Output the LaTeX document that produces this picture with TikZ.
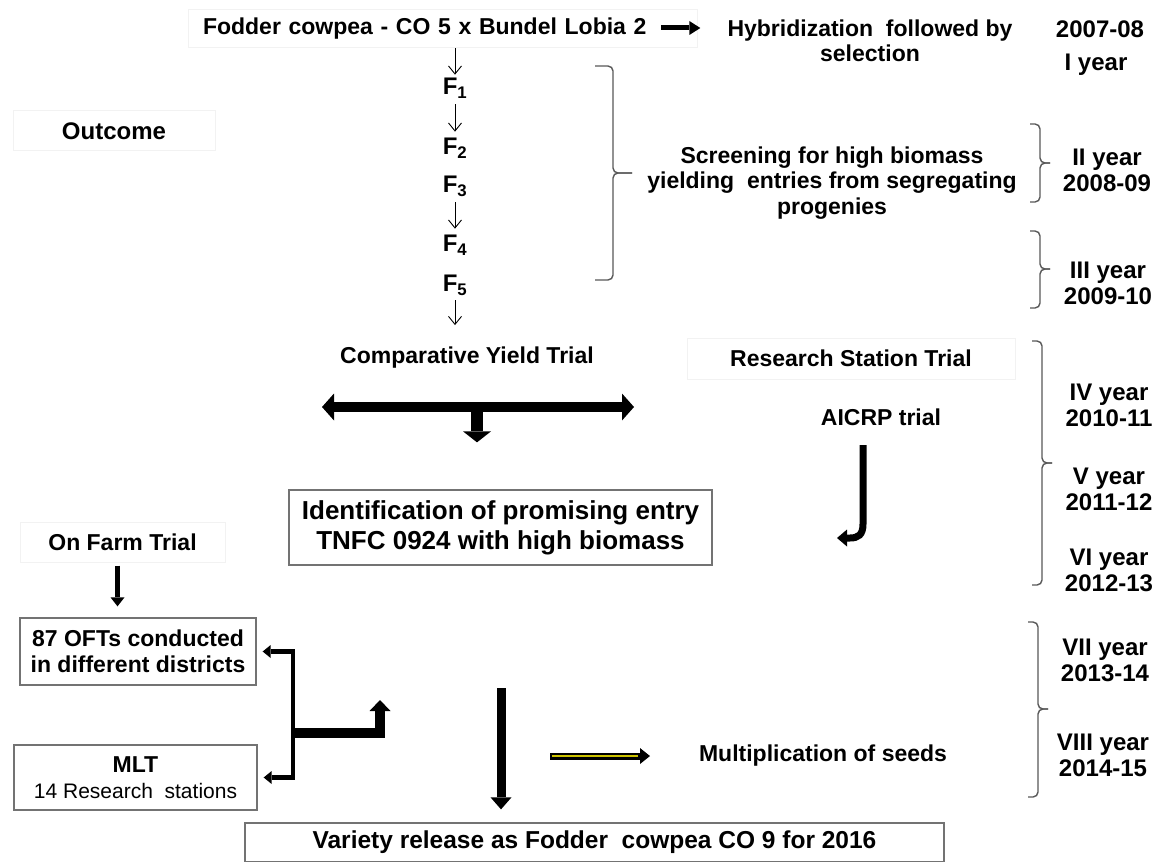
\documentclass[tikz,border=0pt]{standalone}
\usepackage{fontspec}
\setmainfont{Liberation Sans}
\usetikzlibrary{arrows.meta,calc}
\definecolor{faint}{gray}{0.95}
\definecolor{boxgray}{gray}{0.45}
\definecolor{bracegray}{gray}{0.35}
\definecolor{oliveyel}{RGB}{205,195,0}
\newcommand\mybrace[6]{%
  \draw[brc] (#1,#4) -- (#2,#4) -- (#2,#5) -- (#3,#5);
  \draw[brc] (#3,#5) -- (#2,#5) -- (#2,#6) -- (#1,#6);}
\begin{document}
\begin{tikzpicture}[x=1pt,y=-1pt,
  lbl/.style={font=\fontsize{23}{25.5}\selectfont\bfseries, align=center, inner sep=0pt},
  yrlbl/.style={font=\fontsize{24}{26}\selectfont\bfseries, align=center, inner sep=0pt},
  faintbox/.style={draw=faint, line width=1pt},
  solidbox/.style={draw=boxgray, line width=1.3pt},
  farr/.style={line width=0.9pt, -{Straight Barb[length=8pt,width=13pt]}, shorten <=6pt, shorten >=6pt},
  brc/.style={draw=bracegray, line width=1.4pt, rounded corners=5pt}
]
\useasboundingbox[fill=white] (0,0) rectangle (1155,861);

% ---------- nodes ----------
\node[lbl, faintbox, minimum width=509pt, minimum height=38pt, text width=479pt, inner xsep=15pt, align=left] (fod) at (442.5,29) {Fodder cowpea - CO 5 x Bundel Lobia 2};
\node[lbl] (hyb) at (870,41) {Hybridization\ \ followed by\\selection};
\node[yrlbl] (yr1) at (1100,29) {2007-08};
\node[yrlbl] (yr1b) at (1096,65) {I year};

\node[lbl, font=\fontsize{24}{26}\selectfont\bfseries] (F1) at (455,88) {F\textsubscript{1}};
\node[lbl, font=\fontsize{24}{26}\selectfont\bfseries] (F2) at (455,148) {F\textsubscript{2}};
\node[lbl, font=\fontsize{24}{26}\selectfont\bfseries] (F3) at (455,186) {F\textsubscript{3}};
\node[lbl, font=\fontsize{24}{26}\selectfont\bfseries] (F4) at (455,245) {F\textsubscript{4}};
\node[lbl, font=\fontsize{24}{26}\selectfont\bfseries] (F5) at (455,285) {F\textsubscript{5}};

\node[lbl, faintbox, minimum width=202pt, minimum height=40pt, font=\fontsize{24}{26}\selectfont\bfseries] (outc) at (114,131) {Outcome};
\node[lbl] (scr) at (832,183) {Screening for high biomass\\yielding\ \ entries from segregating\\progenies};
\node[yrlbl] (yr2) at (1107,170) {II year\\2008-09};
\node[yrlbl] (yr3) at (1108,283) {III year\\2009-10};

\node[lbl] (cyt) at (467,358) {Comparative Yield Trial};
\node[lbl, faintbox, minimum width=328pt, minimum height=41pt] (rst) at (851,358.5) {Research Station Trial};
\node[lbl] (aicrp) at (881,417) {AICRP trial};
\node[yrlbl] (yr4) at (1109,405) {IV year\\2010-11};
\node[yrlbl] (yr5) at (1109,489) {V year\\2011-12};
\node[yrlbl] (yr6) at (1109,570) {VI year\\2012-13};

\node[lbl, solidbox, font=\fontsize{26}{30}\selectfont\bfseries, minimum width=423pt, minimum height=75pt] (ident) at (500.5,527.5) {Identification of promising entry\\TNFC 0924 with high biomass};

\node[lbl, faintbox, minimum width=205pt, minimum height=40pt] (onf) at (122.5,542) {On Farm Trial};
\node[lbl, solidbox, minimum width=236pt, minimum height=67pt] (ofts) at (138,651.5) {87 OFTs conducted\\in different districts};
\node[lbl, solidbox, minimum width=243pt, minimum height=65pt] (mlt) at (135.5,777.5) {MLT\\{\mdseries\fontsize{21}{24}\selectfont 14 Research\ \ stations}};

\node[lbl] (mult) at (823,756) {Multiplication of seeds};
\node[yrlbl] (yr7) at (1105,660) {VII year\\2013-14};
\node[yrlbl] (yr8) at (1103,755) {VIII year\\2014-15};

\node[lbl, solidbox, font=\fontsize{24.5}{28}\selectfont\bfseries, minimum width=699pt, minimum height=39pt] (var) at (594.5,842.5) {Variety release as Fodder\ \ cowpea CO 9 for 2016};

% ---------- braces ----------
\mybrace{595}{613}{632}{66}{173}{280}
\mybrace{1030}{1040}{1050}{124}{163}{202}
\mybrace{1030}{1040}{1050}{231}{269}{308}
\mybrace{1032}{1042}{1052}{341}{463}{585}
\mybrace{1028}{1038}{1048}{622}{709}{797}

% ---------- thin generation arrows ----------
\draw[farr, shorten <=0pt, shorten >=3pt] (F1.north |- fod.south) -- (F1.north);
\draw[farr] (F1.south) -- (F2.north);
\draw[farr] (F3.south) -- (F4.north);
\draw[farr, shorten <=5pt, shorten >=22pt] (F5.south) -- (F5.south |- cyt.north);

% ---------- thick top arrow ----------
\coordinate (ha) at (661,28);
\draw[line width=5pt, -{Triangle[length=11pt,width=14pt,line width=0pt]}, shorten >=27pt] (ha) -- (ha -| hyb.west);

% ---------- double arrow with stub ----------
\coordinate (dl) at (322,407);
\coordinate (dr) at (634,407);
\coordinate (dm) at (477,407);
\draw[line width=10pt, {Triangle[length=12pt,width=27pt,line width=0pt]}-{Triangle[length=12pt,width=27pt,line width=0pt]}] (dl) -- (dr);
\draw[line width=12pt, -{Triangle[length=11pt,width=28pt,line width=0pt]}, shorten >=47pt] (dm) -- (dm |- ident.north);

% ---------- J arrow ----------
\coordinate (ja) at (863,445);
\coordinate (jb) at (863,524);
\coordinate (jc) at (850,538);
\coordinate (jd) at (837,538);
\draw[line width=7pt, -{Triangle[length=10pt,width=17pt,line width=0pt]}] (ja) -- (jb) .. controls (863,535) and (858,538) .. (jc) -- (jd);

% ---------- on farm arrow ----------
\draw[line width=4.5pt, -{Triangle[length=9pt,width=14pt,line width=0pt]}, shorten <=3pt, shorten >=11pt] ($(onf.south)+(-5,0)$) -- ($(onf.south |- ofts.north)+(-5,0)$);

% ---------- bracket to OFT / MLT ----------
\coordinate (bm) at (293,733);
\draw[line width=4.5pt, line join=miter, {Triangle[length=8pt,width=13pt,line width=0pt]}-{Triangle[length=8pt,width=13pt,line width=0pt]}, shorten <=6pt, shorten >=6pt] (ofts.east) -| (bm) |- (mlt.east);
\coordinate (ec) at (380,733);
\coordinate (et) at (380,700);
\draw[line width=10pt, line join=miter, -{Triangle[length=11pt,width=21pt,line width=0pt]}] (bm) -- (ec) -- (et);

% ---------- big down arrow ----------
\coordinate (vt) at (501,688);
\draw[line width=9pt, -{Triangle[length=12pt,width=21pt,line width=0pt]}, shorten >=13pt] (vt) -- (vt |- var.north);

% ---------- yellow arrow ----------
\coordinate (ya) at (550,756);
\coordinate (yb) at (650,756);
\draw[line width=7pt, -{Triangle[length=10pt,width=16pt,line width=0pt]}] (ya) -- (yb);
\draw[oliveyel, line width=2.5pt, shorten <=1.5pt, shorten >=12pt] (ya) -- (yb);
\end{tikzpicture}
\end{document}
